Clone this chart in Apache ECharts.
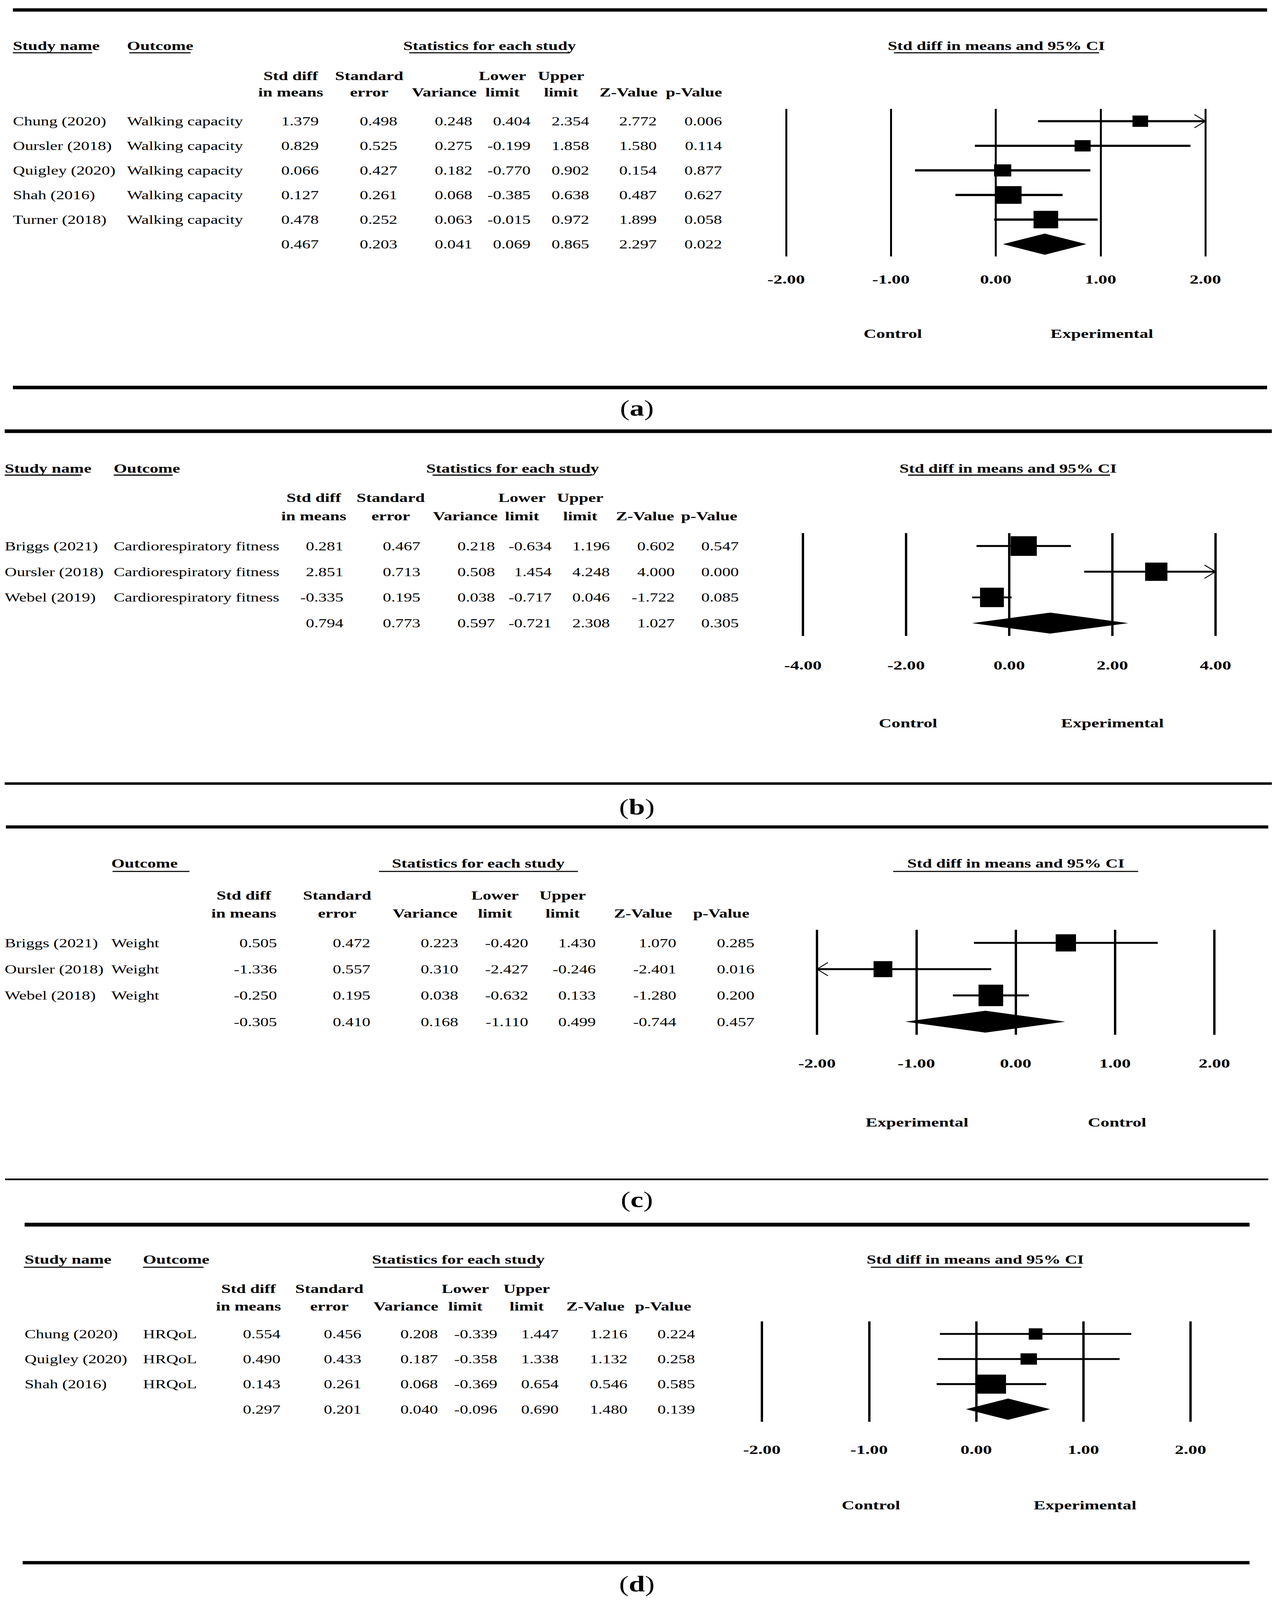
<!DOCTYPE html>
<html><head><meta charset="utf-8">
<script src="https://cdn.jsdelivr.net/npm/echarts@6/dist/echarts.min.js"></script>
<style>
html,body{margin:0;padding:0;background:#fff;overflow:hidden;width:100%;height:100%}
#c{width:3276px;height:5789px;transform-origin:0 0;position:absolute;left:0;top:0}
</style>
</head><body><div id="c"></div>
<script>
// ---------------- DATA ----------------
const colHead1 = ['Std diff', 'Standard', '', 'Lower', 'Upper', '', ''];
const colHead2 = ['in means', 'error', 'Variance', 'limit', 'limit', 'Z-Value', 'p-Value'];
const panelLabels = ['a', 'b', 'c', 'd'];
const panelHasStudyHeader = [true, true, false, true];
const sideLabels = [['Control', 'Experimental'], ['Control', 'Experimental'], ['Experimental', 'Control'], ['Control', 'Experimental']];

// (a) Walking capacity
const a_study = ['Chung (2020)', 'Oursler (2018)', 'Quigley (2020)', 'Shah (2016)', 'Turner (2018)', ''];
const a_outcome = ['Walking capacity', 'Walking capacity', 'Walking capacity', 'Walking capacity', 'Walking capacity', ''];
const a_smd = [1.379, 0.829, 0.066, 0.127, 0.478, 0.467];
const a_se = [0.498, 0.525, 0.427, 0.261, 0.252, 0.203];
const a_var = [0.248, 0.275, 0.182, 0.068, 0.063, 0.041];
const a_lower = [0.404, -0.199, -0.770, -0.385, -0.015, 0.069];
const a_upper = [2.354, 1.858, 0.902, 0.638, 0.972, 0.865];
const a_z = [2.772, 1.580, 0.154, 0.487, 1.899, 2.297];
const a_p = [0.006, 0.114, 0.877, 0.627, 0.058, 0.022];
const a_ticks = [-2, -1, 0, 1, 2];

// (b) Cardiorespiratory fitness
const b_study = ['Briggs (2021)', 'Oursler (2018)', 'Webel (2019)', ''];
const b_outcome = ['Cardiorespiratory fitness', 'Cardiorespiratory fitness', 'Cardiorespiratory fitness', ''];
const b_smd = [0.281, 2.851, -0.335, 0.794];
const b_se = [0.467, 0.713, 0.195, 0.773];
const b_var = [0.218, 0.508, 0.038, 0.597];
const b_lower = [-0.634, 1.454, -0.717, -0.721];
const b_upper = [1.196, 4.248, 0.046, 2.308];
const b_z = [0.602, 4.000, -1.722, 1.027];
const b_p = [0.547, 0.000, 0.085, 0.305];
const b_ticks = [-4, -2, 0, 2, 4];

// (c) Weight
const c_study = ['Briggs (2021)', 'Oursler (2018)', 'Webel (2018)', ''];
const c_outcome = ['Weight', 'Weight', 'Weight', ''];
const c_smd = [0.505, -1.336, -0.250, -0.305];
const c_se = [0.472, 0.557, 0.195, 0.410];
const c_var = [0.223, 0.310, 0.038, 0.168];
const c_lower = [-0.420, -2.427, -0.632, -1.110];
const c_upper = [1.430, -0.246, 0.133, 0.499];
const c_z = [1.070, -2.401, -1.280, -0.744];
const c_p = [0.285, 0.016, 0.200, 0.457];
const c_ticks = [-2, -1, 0, 1, 2];

// (d) HRQoL
const d_study = ['Chung (2020)', 'Quigley (2020)', 'Shah (2016)', ''];
const d_outcome = ['HRQoL', 'HRQoL', 'HRQoL', ''];
const d_smd = [0.554, 0.490, 0.143, 0.297];
const d_se = [0.456, 0.433, 0.261, 0.201];
const d_var = [0.208, 0.187, 0.068, 0.040];
const d_lower = [-0.339, -0.358, -0.369, -0.096];
const d_upper = [1.447, 1.338, 0.654, 0.690];
const d_z = [1.216, 1.132, 0.546, 1.480];
const d_p = [0.224, 0.258, 0.585, 0.139];
const d_ticks = [-2, -1, 0, 1, 2];

const PANELS = [
  {study: a_study, outcome: a_outcome, smd: a_smd, lower: a_lower, upper: a_upper, cols: [a_smd, a_se, a_var, a_lower, a_upper, a_z, a_p], ticks: a_ticks},
  {study: b_study, outcome: b_outcome, smd: b_smd, lower: b_lower, upper: b_upper, cols: [b_smd, b_se, b_var, b_lower, b_upper, b_z, b_p], ticks: b_ticks},
  {study: c_study, outcome: c_outcome, smd: c_smd, lower: c_lower, upper: c_upper, cols: [c_smd, c_se, c_var, c_lower, c_upper, c_z, c_p], ticks: c_ticks},
  {study: d_study, outcome: d_outcome, smd: d_smd, lower: d_lower, upper: d_upper, cols: [d_smd, d_se, d_var, d_lower, d_upper, d_z, d_p], ticks: d_ticks}
];

// ---------------- LAYOUT / STYLE ----------------
const FIG_W = 3276, FIG_H = 5789;
const FONT = '"Liberation Serif", "Times New Roman", Times, serif';
const FS = 46;          // body font size
const SX_REG = 0.93;    // horizontal condensing of regular text (as in the reference)
const SX_BOLD = 0.95;   // horizontal condensing of bold headers
const LAYOUT = [
  {topY: 36, topW: 12, topX: [33, 3243], botY: 1402, botW: 13, botX: [33, 3243], headY: 165, studyX: 33, outX: 325, statsX: 1253,
   ciX: 2550, ulY: 191, ulStudy: [33, 236], ulOut: [331, 488], ulStats: [1047, 1459], ulCi: [2288, 2813],
   h1Y: 274, h2Y: 333, colR: [816, 1017, 1209, 1358, 1508, 1681, 1848], hOff: 72,
   rowTop: 394, rowH: 534, fx: 2012, fw: 1073, lblMargin: 60, leftX: 2285, rightX: 2820, legY: 1208, panelY: 1477,
   box: [[40, 41], [41, 41], [44, 44], [64, 64], [63, 63]], dH: 77, lw: 8, gw: 5},
  {topY: 1560, topW: 13, topX: [12, 3255], botY: 2835, botW: 9, botX: [12, 3255], headY: 1694, studyX: 12, outX: 291, statsX: 1312,
   ciX: 2580, ulY: 1719, ulStudy: [12, 208], ulOut: [291, 442], ulStats: [1107, 1513], ulCi: [2324, 2841],
   h1Y: 1801, h2Y: 1867, colR: [879, 1076, 1267, 1412, 1561, 1727, 1891], hOff: 76,
   rowTop: 1929, rowH: 372, fx: 2055, fw: 1056, lblMargin: 83, leftX: 2324, rightX: 2847, legY: 2616, panelY: 2920,
   box: [[67, 71], [57, 66], [61, 70]], dH: 76, lw: 7, gw: 6},
  {topY: 2992, topW: 11, topX: [15, 3246], botY: 4267, botW: 6, botX: [13, 3246], headY: 3124, studyX: 12, outX: 285, statsX: 1224,
   ciX: 2600, ulY: 3153, ulStudy: null, ulOut: [288, 485], ulStats: [970, 1479], ulCi: [2286, 2913],
   h1Y: 3239, h2Y: 3305, colR: [709, 948, 1173, 1352, 1525, 1731, 1931], hOff: 85,
   rowTop: 3364, rowH: 380, fx: 2091, fw: 1017, lblMargin: 80, leftX: 2347, rightX: 2859, legY: 4061, panelY: 4340,
   box: [[52, 62], [48, 58], [63, 78]], dH: 79, lw: 7, gw: 6},
  {topY: 4431, topW: 14, topX: [63, 3198], botY: 5654, botW: 12, botX: [58, 3198], headY: 4557, studyX: 63, outX: 366, statsX: 1173,
   ciX: 2496, ulY: 4585, ulStudy: [61, 264], ulOut: [366, 521], ulStats: [958, 1382], ulCi: [2229, 2768],
   h1Y: 4663, h2Y: 4726, colR: [718, 925, 1121, 1273, 1430, 1606, 1779], hOff: 82,
   rowTop: 4781, rowH: 363, fx: 1950, fw: 1097, lblMargin: 78, leftX: 2229, rightX: 2777, legY: 5446, panelY: 5731,
   box: [[35, 41], [42, 41], [74, 69]], dH: 77, lw: 7, gw: 6}
];
const PANEL_LABEL_X = 1630;
const PANEL_LABEL_FS = 80;

// fit the whole figure into the actual viewport (the window may be shorter than the figure)
(function fit() {
  const el = document.getElementById('c');
  const sx = Math.min(1, (window.innerWidth || FIG_W) / FIG_W);
  const sy = Math.min(1, (window.innerHeight || FIG_H) / FIG_H);
  if (sx < 1 || sy < 1) el.style.transform = 'scale(' + sx + ',' + sy + ')';
})();

// ---------------- BUILD ----------------
const chart = echarts.init(document.getElementById('c'), null, {renderer: 'svg', width: FIG_W, height: FIG_H});

const grids = [], xAxes = [], yAxes = [], series = [], graphics = [];

function txt(x, y, s, opt, sx) {
  return {type: 'text', x: x, y: y, scaleX: sx || 1, silent: true,
    style: Object.assign({text: s, fill: '#000', fontSize: FS, fontFamily: FONT, fontWeight: 'normal',
      align: 'left', verticalAlign: 'middle'}, opt || {})};
}
function hline(x1, x2, y, w) {
  return {type: 'line', silent: true, shape: {x1: x1, y1: y, x2: x2, y2: y}, style: {stroke: '#000', lineWidth: w}};
}

PANELS.forEach(function (P, p) {
  const L = LAYOUT[p];
  const n = P.study.length;
  const rows = P.study.map(function (_, i) { return 'r' + i; });
  const tg = grids.length;
  grids.push({left: 0, top: L.rowTop, width: FIG_W, height: L.rowH, containLabel: false});
  grids.push({left: L.fx, top: L.rowTop, width: L.fw, height: L.rowH, containLabel: false});
  xAxes.push({gridIndex: tg, type: 'value', min: 0, max: FIG_W, show: false});
  yAxes.push({gridIndex: tg, type: 'category', data: rows, inverse: true, show: false});
  const ticks = P.ticks;
  const xmin = ticks[0], xmax = ticks[ticks.length - 1];
  xAxes.push({gridIndex: tg + 1, type: 'value', min: xmin, max: xmax, interval: ticks[1] - ticks[0],
    axisLine: {show: false}, axisTick: {show: false},
    splitLine: {show: true, showMinLine: true, showMaxLine: true, lineStyle: {color: '#000', width: L.gw}},
    axisLabel: {show: true, showMinLabel: true, showMaxLabel: true, margin: L.lblMargin,
      formatter: function (v) { return v.toFixed(2); },
      fontSize: FS, fontWeight: 'bold', fontFamily: FONT, color: '#000'}});
  yAxes.push({gridIndex: tg + 1, type: 'category', data: rows, inverse: true, show: false});

  // table values
  series.push({
    type: 'custom', xAxisIndex: tg, yAxisIndex: tg, silent: true, clip: false,
    data: rows.map(function (_, i) { return [0, i]; }),
    encode: {x: 0, y: 1},
    renderItem: function (params, api) {
      const i = params.dataIndex;
      const y = api.coord([0, i])[1];
      const X = function (v) { return api.coord([v, i])[0]; };
      const ch = [];
      const t = function (s, x, align) {
        return {type: 'text', x: X(x), y: y, scaleX: SX_REG, style: {text: s, fill: '#000', fontSize: FS, fontFamily: FONT,
          align: align, verticalAlign: 'middle'}};
      };
      if (P.study[i]) ch.push(t(P.study[i], L.studyX, 'left'));
      if (P.outcome[i]) ch.push(t(P.outcome[i], L.outX, 'left'));
      P.cols.forEach(function (col, c) { ch.push(t(col[i].toFixed(3), L.colR[c], 'right')); });
      return {type: 'group', children: ch};
    }
  });

  // forest marks
  series.push({
    type: 'custom', xAxisIndex: tg + 1, yAxisIndex: tg + 1, silent: true, clip: false,
    data: rows.map(function (_, i) { return [P.lower[i], P.upper[i], P.smd[i], i, i === n - 1 ? 1 : 0]; }),
    encode: {x: [0, 1, 2], y: 3},
    renderItem: function (params, api) {
      const lo = api.value(0), hi = api.value(1), est = api.value(2), row = api.value(3), summ = api.value(4);
      const y = api.coord([est, row])[1];
      const X = function (v) { return api.coord([v, row])[0]; };
      const x1 = X(Math.max(lo, xmin)), x2 = X(Math.min(hi, xmax)), xe = X(est);
      if (summ) {
        return {type: 'polygon', shape: {points: [[x1, y], [xe, y - L.dH / 2], [x2, y], [xe, y + L.dH / 2]]},
          style: {fill: '#000'}};
      }
      const bw = L.box[params.dataIndex][0], bh = L.box[params.dataIndex][1];
      const ch = [
        {type: 'line', shape: {x1: x1, y1: y, x2: x2, y2: y}, style: {stroke: '#000', lineWidth: L.lw}},
        {type: 'rect', shape: {x: xe - bw / 2, y: y - bh / 2, width: bw, height: bh}, style: {fill: '#000'}}
      ];
      if (lo < xmin) ch.push({type: 'polyline', shape: {points: [[x1 + 28, y - 24], [x1, y], [x1 + 28, y + 24]]},
        style: {stroke: '#000', fill: null, lineWidth: 3}});
      if (hi > xmax) ch.push({type: 'polyline', shape: {points: [[x2 - 28, y - 24], [x2, y], [x2 - 28, y + 24]]},
        style: {stroke: '#000', fill: null, lineWidth: 3}});
      return {type: 'group', children: ch};
    }
  });

  // rules
  graphics.push(hline(L.topX[0], L.topX[1], L.topY, L.topW));
  graphics.push(hline(L.botX[0], L.botX[1], L.botY, L.botW));
  // headers
  const B = {fontWeight: 'bold'};
  const BC = {fontWeight: 'bold', align: 'center'};
  if (panelHasStudyHeader[p]) {
    graphics.push(txt(L.studyX, L.headY, 'Study name', B, SX_BOLD));
    graphics.push(hline(L.ulStudy[0], L.ulStudy[1], L.ulY, 4));
  }
  graphics.push(txt(L.outX, L.headY, 'Outcome', B, SX_BOLD));
  graphics.push(hline(L.ulOut[0], L.ulOut[1], L.ulY, 4));
  graphics.push(txt(L.statsX, L.headY, 'Statistics for each study', BC, SX_BOLD));
  graphics.push(hline(L.ulStats[0], L.ulStats[1], L.ulY, 4));
  graphics.push(txt(L.ciX, L.headY, 'Std diff in means and 95% CI', BC, SX_BOLD));
  graphics.push(hline(L.ulCi[0], L.ulCi[1], L.ulY, 4));
  colHead1.forEach(function (s, c) {
    if (s) graphics.push(txt(L.colR[c] - L.hOff, L.h1Y, s, BC, SX_BOLD));
  });
  colHead2.forEach(function (s, c) {
    graphics.push(txt(L.colR[c] - L.hOff, L.h2Y, s, BC, SX_BOLD));
  });
  graphics.push(txt(L.leftX, L.legY, sideLabels[p][0], BC, 0.98));
  graphics.push(txt(L.rightX, L.legY, sideLabels[p][1], BC, 0.98));
  graphics.push(txt(PANEL_LABEL_X, L.panelY, '({b|' + panelLabels[p] + '})',
    {align: 'center', fontSize: PANEL_LABEL_FS,
     rich: {b: {fontWeight: 'bold', fontSize: PANEL_LABEL_FS, fontFamily: FONT}}}, 0.93));
});

chart.setOption({
  animation: false,
  backgroundColor: '#fff',
  grid: grids,
  xAxis: xAxes,
  yAxis: yAxes,
  series: series,
  graphic: {elements: graphics}
});
</script></body></html>
